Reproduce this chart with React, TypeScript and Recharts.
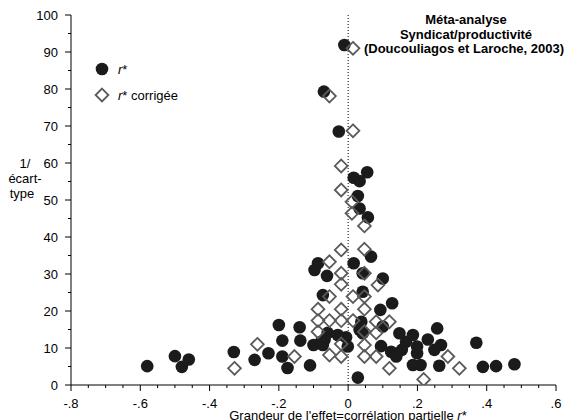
import React from 'react';
import { ScatterChart, Scatter, XAxis, YAxis, ReferenceLine, Legend } from 'recharts';

const FONT = '"Liberation Sans", Arial, Helvetica, sans-serif';

// r* (filled circles)
const R_STAR_X = [
  -0.58, -0.5, -0.48, -0.46, -0.33, -0.27, -0.23, -0.2, -0.19, -0.19, -0.175,
  -0.14, -0.138, -0.11, -0.1, -0.073, -0.087, -0.097, -0.061, 0.016, 0.042,
  0.042, -0.059, -0.03, -0.006, -0.068, -0.073, -0.001, 0.038, 0.033, 0.042,
  0.028, 0.093, 0.127, 0.1, 0.148, 0.187, 0.167, 0.257, 0.23, 0.268, 0.249,
  0.095, 0.124, 0.155, 0.139, 0.199, 0.199, 0.187, 0.209, 0.263, 0.37, 0.389,
  0.427, 0.48, 0.055, 0.016, 0.033, 0.028, 0.033, 0.057, 0.066, 0.1, -0.011,
  -0.07, -0.027, -0.078,
];
const R_STAR_Y = [
  5.1, 7.8, 4.9, 6.9, 8.9, 6.8, 8.6, 16.2, 12.0, 7.7, 4.6,
  15.6, 12.0, 5.3, 10.8, 24.3, 32.9, 31.1, 29.5, 32.9, 30.2,
  25.2, 14.1, 13.5, 12.9, 12.2, 10.8, 10.4, 17.1, 14.9, 14.0,
  2.0, 20.3, 22.1, 15.8, 14.0, 13.5, 11.7, 15.3, 12.3, 10.8, 9.5,
  10.5, 9.0, 9.5, 7.7, 10.4, 8.6, 5.4, 5.4, 5.2, 11.4, 4.9,
  5.1, 5.6, 57.5, 56.0, 55.1, 51.1, 47.7, 45.3, 34.7, 28.8, 91.9,
  79.3, 68.5, 11.7,
];

// r* corrigée (open diamonds)
const R_CORR_X = [
  -0.328, -0.262, -0.155, -0.087, -0.087, -0.087, -0.054, -0.054, -0.054, -0.054,
  -0.02, -0.02, -0.02, -0.02, -0.02, -0.02, -0.02, 0.014, 0.014, 0.047,
  0.047, 0.047, 0.047, 0.047, 0.047, 0.047, 0.086, 0.081, 0.119, 0.081,
  0.081, 0.119, 0.218, 0.288, 0.321, -0.02, -0.02, 0.011, 0.011, 0.047,
  0.014, -0.054, 0.014,
];
const R_CORR_Y = [
  4.5, 11.0, 7.7, 20.5, 17.4, 14.4, 33.3, 23.9, 17.4, 8.1,
  36.5, 30.2, 27.2, 20.5, 17.4, 11.1, 7.7, 23.9, 17.4, 30.2,
  20.5, 14.4, 10.8, 7.7, 23.9, 36.7, 27.0, 17.1, 17.1, 14.1,
  7.7, 4.5, 1.5, 7.7, 4.5, 59.2, 52.7, 49.5, 46.4, 43.0,
  91.0, 78.1, 68.7,
];

const X_MAJOR_TICKS = [-0.8, -0.6, -0.4, -0.2, 0, 0.2, 0.4, 0.6];
const X_TICK_LABELS = ['-.8', '-.6', '-.4', '-.2', '0', '.2', '.4', '.6'];
const X_MINOR_TICKS = [
  -0.75, -0.7, -0.65, -0.55, -0.5, -0.45, -0.35, -0.3, -0.25, -0.15, -0.1, -0.05,
  0.05, 0.1, 0.15, 0.25, 0.3, 0.35, 0.45, 0.5, 0.55,
];
const Y_MAJOR_TICKS = [0, 10, 20, 30, 40, 50, 60, 70, 80, 90, 100];
const Y_TICK_LABELS = ['0', '10', '20', '30', '40', '50', '60', '70', '80', '90', '100'];
const Y_MINOR_TICKS = [5, 15, 25, 35, 45, 55, 65, 75, 85, 95];

const SERIES_NAMES = ['r*', 'r* corrigée'];

const rStar = R_STAR_X.map((x, i) => ({ x, y: R_STAR_Y[i] }));
const rCorr = R_CORR_X.map((x, i) => ({ x, y: R_CORR_Y[i] }));
const allXTicks = [...X_MAJOR_TICKS, ...X_MINOR_TICKS].sort((a, b) => a - b);
const allYTicks = [...Y_MAJOR_TICKS, ...Y_MINOR_TICKS].sort((a, b) => a - b);

const near = (a: number, b: number) => Math.abs(a - b) < 1e-9;

const XTick = (props: any) => {
  const { x, y, payload } = props;
  const idx = X_MAJOR_TICKS.findIndex((t) => near(t, payload.value));
  const major = idx >= 0;
  return (
    <g>
      <line x1={x} x2={x} y1={y} y2={y + (major ? 6 : 3)} stroke="#000" strokeWidth={1} />
      {major && (
        <text x={x} y={y + 23} textAnchor="middle" fontSize={13} fill="#000" fontFamily={FONT}>
          {X_TICK_LABELS[idx]}
        </text>
      )}
    </g>
  );
};

const YTick = (props: any) => {
  const { x, y, payload } = props;
  const idx = Y_MAJOR_TICKS.findIndex((t) => near(t, payload.value));
  const major = idx >= 0;
  return (
    <g>
      <line x1={x - (major ? 6 : 3)} x2={x} y1={y} y2={y} stroke="#000" strokeWidth={1} />
      {major && (
        <text x={x - 13} y={y + 5} textAnchor="end" fontSize={13} fill="#000" fontFamily={FONT}>
          {Y_TICK_LABELS[idx]}
        </text>
      )}
    </g>
  );
};

const CircleShape = (props: any) => {
  const { cx, cy } = props;
  if (cx == null || cy == null) return null;
  return <circle cx={cx} cy={cy} r={6.3} fill="#1b1b1b" />;
};

const DiamondShape = (props: any) => {
  const { cx, cy } = props;
  if (cx == null || cy == null) return null;
  const s = 6.4;
  return (
    <polygon
      points={`${cx},${cy - s} ${cx + s},${cy} ${cx},${cy + s} ${cx - s},${cy}`}
      fill="none"
      stroke="#5a5a5a"
      strokeWidth={1.8}
    />
  );
};

const LegendContent = () => (
  <svg width={120} height={44} style={{ overflow: 'visible', display: 'block' }}>
    <circle cx={10} cy={8} r={6.3} fill="#1b1b1b" />
    <text x={26} y={13} fontSize={13} fontFamily={FONT} fill="#000">
      <tspan fontStyle="italic">r</tspan>
      <tspan>*</tspan>
    </text>
    <polygon points="10,27.6 16.4,34 10,40.4 3.6,34" fill="none" stroke="#5a5a5a" strokeWidth={1.8} />
    <text x={26} y={39} fontSize={13} fontFamily={FONT} fill="#000">
      <tspan fontStyle="italic">r</tspan>
      <tspan>* corrigée</tspan>
    </text>
  </svg>
);

export default function App() {
  return (
    <div style={{ position: 'absolute', left: 0, top: 0, width: 565, height: 420, background: '#fff' }}>
      <ScatterChart
        width={565}
        height={420}
        margin={{ top: 15, right: 9, bottom: 0, left: 0 }}
        style={{ fontFamily: FONT }}
      >
        <XAxis
          type="number"
          dataKey="x"
          domain={[-0.8, 0.6]}
          ticks={allXTicks}
          interval={0}
          tickSize={0}
          tickMargin={0}
          tickLine={false}
          tick={<XTick />}
          height={35}
          axisLine={{ stroke: '#000', strokeWidth: 1 }}
          allowDataOverflow
        />
        <YAxis
          type="number"
          dataKey="y"
          domain={[0, 100]}
          ticks={allYTicks}
          interval={0}
          tickSize={0}
          tickMargin={0}
          tickLine={false}
          tick={<YTick />}
          width={71}
          axisLine={{ stroke: '#000', strokeWidth: 1 }}
          allowDataOverflow
        />
        <ReferenceLine x={0} stroke="#000" strokeWidth={1} strokeDasharray="1 2" />
        <Legend
          layout="vertical"
          align="center"
          verticalAlign="middle"
          content={<LegendContent />}
          wrapperStyle={{ position: 'absolute', left: 92, top: 61, width: 120, height: 44 }}
        />
        <Scatter name={SERIES_NAMES[0]} data={rStar} shape={<CircleShape />} isAnimationActive={false} />
        <Scatter name={SERIES_NAMES[1]} data={rCorr} shape={<DiamondShape />} isAnimationActive={false} />
      </ScatterChart>
      <svg
        width={565}
        height={420}
        style={{ position: 'absolute', left: 0, top: 0, pointerEvents: 'none' }}
      >
        <g fontFamily={FONT} fontSize={13} fontWeight="bold" fill="#000" textAnchor="middle">
          <text x={466} y={24}>Méta-analyse</text>
          <text x={466} y={39}>Syndicat/productivité</text>
          <text x={464} y={53}>(Doucouliagos et Laroche, 2003)</text>
        </g>
        <g fontFamily={FONT} fontSize={13} fill="#000" textAnchor="middle">
          <text x={25} y={168}>1/</text>
          <text x={25} y={183}>écart-</text>
          <text x={22} y={198}>type</text>
        </g>
        <text x={348} y={420} fontFamily={FONT} fontSize={13} fill="#000" textAnchor="middle">
          <tspan>Grandeur de l'effet=corrélation partielle </tspan>
          <tspan fontStyle="italic">r</tspan>
          <tspan>*</tspan>
        </text>
      </svg>
    </div>
  );
}
